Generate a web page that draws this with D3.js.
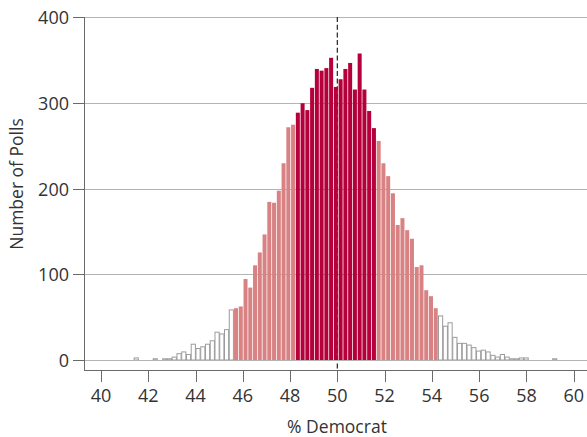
<!DOCTYPE html>
<html>
<head>
<meta charset="utf-8">
<script src="https://cdn.jsdelivr.net/npm/d3@7"></script>
<style>
  body { margin: 0; background: #fff; }
  svg text { font-family: "Open Sans", "Noto Sans", sans-serif; fill: #333; }
</style>
</head>
<body>
<svg id="chart" width="587" height="437"></svg>
<script>
// Histogram of simulated poll results (% Democrat), one bin per possible poll value
const binStart = 41.39;
const binWidth = 0.2012;
const pollCounts = [
  3, 0, 0, 0, 2, 0, 2, 2, 4, 8,
  10, 7, 19, 14, 16, 19, 23, 33, 31, 36,
  59, 61, 63, 95, 85, 111, 126, 147, 185, 184,
  198, 230, 272, 275, 289, 300, 292, 318, 340, 338,
  341, 353, 319, 328, 340, 347, 316, 358, 316, 291,
  271, 256, 230, 215, 195, 158, 166, 152, 142, 109,
  111, 82, 75, 61, 52, 40, 44, 27, 20, 20,
  18, 15, 11, 12, 10, 6, 4, 7, 4, 2,
  2, 3, 3, 0, 0, 0, 0, 0, 2
];
const xTicks = [40, 42, 44, 46, 48, 50, 52, 54, 56, 58, 60];
const yTicks = [0, 100, 200, 300, 400];
const innerRange = [48.2, 51.7];   // closest band
const outerRange = [45.6, 54.3];   // wider band
const evenSplit = 50;

const colors = { inner: "#b5003c", outer: "#d98283", tail: "#ffffff", tailStroke: "#9c9c9c" };

const bins = pollCounts.map((count, i) => {
  const x0 = binStart + i * binWidth;
  return { x0, x1: x0 + binWidth, mid: x0 + binWidth / 2, count };
});

const svg = d3.select("#chart");
const plotLeft = 84, plotRight = 587, axisY = 370.5;

const x = d3.scaleLinear().domain([40, 60]).range([101, 573.7]);
const y = d3.scaleLinear().domain([0, 400]).range([360.5, 17.5]);
const row = v => Math.floor(y(v)) + 0.5;

// horizontal gridlines
svg.append("g")
  .selectAll("line")
  .data(yTicks)
  .join("line")
  .attr("x1", plotLeft).attr("x2", plotRight)
  .attr("y1", row).attr("y2", row)
  .attr("stroke", "#b4b4b4")
  .attr("stroke-width", 1);

// reference line at an even split
svg.append("line")
  .attr("x1", x(evenSplit)).attr("x2", x(evenSplit))
  .attr("y1", 17).attr("y2", axisY)
  .attr("stroke", "#333")
  .attr("stroke-width", 1.3)
  .attr("stroke-dasharray", "5,2.7");

// bars
function band(d) {
  if (d.mid >= innerRange[0] && d.mid <= innerRange[1]) return "inner";
  if (d.mid >= outerRange[0] && d.mid <= outerRange[1]) return "outer";
  return "tail";
}
const baseRow = Math.floor(y(0));

svg.append("g")
  .selectAll("rect")
  .data(bins.filter(d => d.count > 0))
  .join("rect")
  .each(function (d) {
    const b = band(d);
    const sel = d3.select(this);
    const x0 = x(d.x0), x1 = x(d.x1);
    const top = y(d.count);
    if (b === "tail") {
      sel.attr("x", x0 + 0.3).attr("width", x1 - x0 - 0.6)
        .attr("y", top).attr("height", baseRow - top)
        .attr("fill", colors.tail)
        .attr("stroke", colors.tailStroke)
        .attr("stroke-width", 1);
    } else {
      sel.attr("x", x0 + 0.3).attr("width", x1 - x0 - 0.75)
        .attr("y", top).attr("height", baseRow - top)
        .attr("fill", colors[b]);
    }
  });

// zero line over bar bases
svg.append("line")
  .attr("x1", plotLeft).attr("x2", plotRight)
  .attr("y1", row(0)).attr("y2", row(0))
  .attr("stroke", "#b4b4b4");

// y axis
const yAxis = svg.append("g");
yAxis.append("line")
  .attr("x1", plotLeft + 0.5).attr("x2", plotLeft + 0.5)
  .attr("y1", 17).attr("y2", axisY)
  .attr("stroke", "#6a6a6a");
yAxis.selectAll("line.tick")
  .data(yTicks)
  .join("line")
  .attr("class", "tick")
  .attr("x1", 73).attr("x2", plotLeft)
  .attr("y1", row).attr("y2", row)
  .attr("stroke", "#6a6a6a");
yAxis.selectAll("text")
  .data(yTicks)
  .join("text")
  .attr("x", 69)
  .attr("y", d => row(d))
  .attr("dy", "0.35em")
  .attr("text-anchor", "end")
  .attr("font-size", 18)
  .text(d => d);

// x axis
const xAxis = svg.append("g");
xAxis.append("line")
  .attr("x1", plotLeft).attr("x2", plotRight)
  .attr("y1", axisY).attr("y2", axisY)
  .attr("stroke", "#6a6a6a");
xAxis.selectAll("line.tick")
  .data(xTicks)
  .join("line")
  .attr("class", "tick")
  .attr("x1", d => Math.round(x(d)) + 0.5).attr("x2", d => Math.round(x(d)) + 0.5)
  .attr("y1", axisY).attr("y2", 382)
  .attr("stroke", "#6a6a6a");
xAxis.selectAll("text")
  .data(xTicks)
  .join("text")
  .attr("x", d => x(d))
  .attr("y", 402)
  .attr("text-anchor", "middle")
  .attr("font-size", 18)
  .text(d => d);

// axis titles
svg.append("text")
  .attr("x", 337)
  .attr("y", 433)
  .attr("text-anchor", "middle")
  .attr("font-size", 17.5)
  .text("% Democrat");

svg.append("text")
  .attr("transform", "translate(23,184) rotate(-90)")
  .attr("text-anchor", "middle")
  .attr("font-size", 17.5)
  .text("Number of Polls");
</script>
</body>
</html>
